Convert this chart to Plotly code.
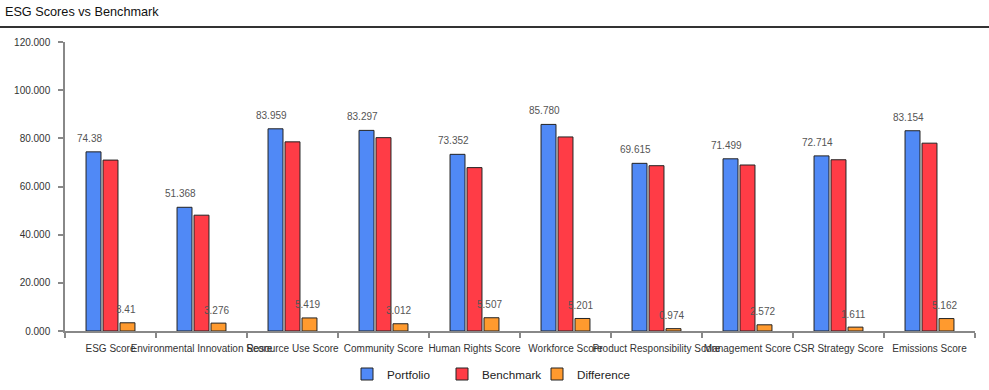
import plotly.graph_objects as go

categories = ["ESG Score", "Environmental Innovation Score", "Resource Use Score",
              "Community Score", "Human Rights Score", "Workforce Score",
              "Product Responsibility Score", "Management Score",
              "CSR Strategy Score", "Emissions Score"]
portfolio = [74.38, 51.368, 83.959, 83.297, 73.352, 85.780, 69.615, 71.499, 72.714, 83.154]
portfolio_labels = ["74.38", "51.368", "83.959", "83.297", "73.352", "85.780",
                    "69.615", "71.499", "72.714", "83.154"]
difference = [3.41, 3.276, 5.419, 3.012, 5.507, 5.201, 0.974, 2.572, 1.611, 5.162]
difference_labels = ["3.41", "3.276", "5.419", "3.012", "5.507", "5.201",
                     "0.974", "2.572", "1.611", "5.162"]
benchmark = [70.97, 48.092, 78.54, 80.285, 67.845, 80.579, 68.641, 68.927, 71.103, 77.992]

FONT = "Arial, Liberation Sans, sans-serif"
line = dict(color="#222222", width=1)
label_font = dict(size=10, color="#555555", family=FONT)
AXIS = "#888888"

fig = go.Figure()
fig.add_trace(go.Bar(name="Portfolio", x=categories, y=portfolio,
                     marker=dict(color="#5089F6", line=line)))
fig.add_trace(go.Bar(name="Benchmark", x=categories, y=benchmark,
                     marker=dict(color="#FF3C46", line=line)))
fig.add_trace(go.Bar(name="Difference", x=categories, y=difference,
                     marker=dict(color="#FF9A2E", line=line)))

for c, v, t in zip(categories, portfolio, portfolio_labels):
    fig.add_annotation(x=c, y=v, text=t, showarrow=False, xshift=-21.5, yshift=13.5,
                       yanchor="middle", font=label_font)
for c, v, t in zip(categories, difference, difference_labels):
    fig.add_annotation(x=c, y=v, text=t, showarrow=False, xshift=15, yshift=13,
                       yanchor="middle", font=label_font)

fig.update_layout(
    width=989, height=390,
    margin=dict(l=65, r=14, t=42, b=59, autoexpand=False),
    paper_bgcolor="white", plot_bgcolor="white",
    font=dict(family=FONT, size=10, color="#333333"),
    barmode="group", bargap=0.44, bargroupgap=0.12,
    title=dict(text="ESG Scores vs Benchmark", x=0.005, xanchor="left",
               y=1 - 12 / 390, yref="container", yanchor="middle",
               font=dict(size=12.7, color="#111111", family=FONT)),
    showlegend=True,
    legend=dict(orientation="h", x=(347 - 65) / 910, xanchor="left",
                y=-(374 - 331) / 289, yanchor="middle",
                entrywidth=50, font=dict(size=11.7, color="#222222", family=FONT),
                bgcolor="rgba(0,0,0,0)"),
)
fig.update_xaxes(type="category", tickangle=0, showgrid=False, showline=True,
                 linecolor=AXIS, linewidth=1.5, ticks="outside",
                 tickson="boundaries", ticklen=5, tickcolor=AXIS, tickwidth=1.5,
                 automargin=False, ticklabelstandoff=7,
                 tickfont=dict(size=10, color="#333333", family=FONT))
fig.update_yaxes(range=[0, 120], dtick=20, tickformat=".3f", showgrid=False,
                 zeroline=False, showline=True, linecolor=AXIS, linewidth=1.5,
                 ticks="outside", ticklen=5, tickcolor=AXIS, tickwidth=1.5,
                 automargin=False, ticklabelstandoff=6,
                 tickfont=dict(size=10, color="#333333", family=FONT))
fig.add_shape(type="line", xref="paper", yref="paper",
              x0=-65 / 910, x1=(989 - 65) / 910,
              y0=(331 - 27) / 289, y1=(331 - 27) / 289,
              line=dict(color="#333333", width=2))

fig.write_html("out.html", config={"displayModeBar": False},
               post_script="document.body.style.margin='0';document.body.style.overflow='hidden';")
